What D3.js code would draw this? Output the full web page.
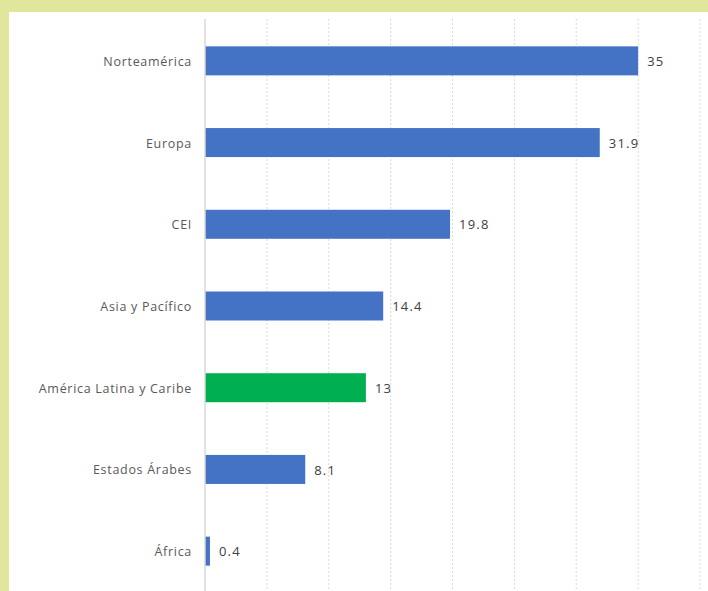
<!DOCTYPE html>
<html><head><meta charset="utf-8">
<script src="https://cdn.jsdelivr.net/npm/d3@7"></script>
<style>html,body{margin:0;padding:0;background:#e0e69c;overflow:hidden}</style>
</head><body>
<svg id="chart" width="708" height="591"></svg>
<script>
const categories = ["Norteamérica","Europa","CEI","Asia y Pacífico","América Latina y Caribe","Estados Árabes","África"];
const values = [35, 31.9, 19.8, 14.4, 13, 8.1, 0.4];
const valueLabels = ["35","31.9","19.8","14.4","13","8.1","0.4"];
const highlight = "América Latina y Caribe";
const xTicks = [0,5,10,15,20,25,30,35,40];

const svg = d3.select("#chart");
svg.append("rect").attr("x",0).attr("y",0).attr("width",708).attr("height",591).attr("fill","#e0e69c");
svg.append("rect").attr("x",9).attr("y",12).attr("width",699).attr("height",579).attr("fill","#ffffff");

const x = d3.scaleLinear().domain([0,40]).range([205,700]);
const y = d3.scaleBand().domain(categories).range([20,592]).paddingInner(0.645).paddingOuter(0.3225);

// gridlines
svg.append("g").selectAll("line").data(xTicks.filter(t=>t>0)).join("line")
  .attr("x1",d=>x(d)).attr("x2",d=>x(d)).attr("y1",19).attr("y2",591)
  .attr("stroke","#d9d9d9").attr("stroke-width",1).attr("stroke-dasharray","2,2");

// bars
svg.append("g").selectAll("rect").data(categories).join("rect")
  .attr("x",x(0)).attr("y",d=>y(d)).attr("height",y.bandwidth())
  .attr("width",(d,i)=>x(values[i])-x(0))
  .attr("fill",d=>d===highlight?"#00b050":"#4472c4");

// axis line
svg.append("line").attr("x1",x(0)).attr("x2",x(0)).attr("y1",19).attr("y2",591)
  .attr("stroke","#d9d9d9").attr("stroke-width",1.5);

// category labels
const yAxis = d3.axisLeft(y).tickSize(0).tickPadding(13);
const ga = svg.append("g").attr("transform",`translate(${x(0)},0)`).call(yAxis);
ga.select(".domain").remove();
ga.selectAll("text").attr("fill","#595959").attr("dy","0.4em").style("font-family","'Open Sans', sans-serif").style("font-size","12.5px").style("letter-spacing","0.7px");

// value labels
svg.append("g").selectAll("text").data(categories).join("text")
  .attr("x",(d,i)=>x(values[i])+9).attr("y",d=>y(d)+y.bandwidth()/2)
  .attr("dy","0.4em").attr("fill","#404040")
  .style("font-family","'Open Sans', sans-serif").style("font-size","13px").style("letter-spacing","1.2px")
  .text((d,i)=>valueLabels[i]);
</script>
</body></html>
